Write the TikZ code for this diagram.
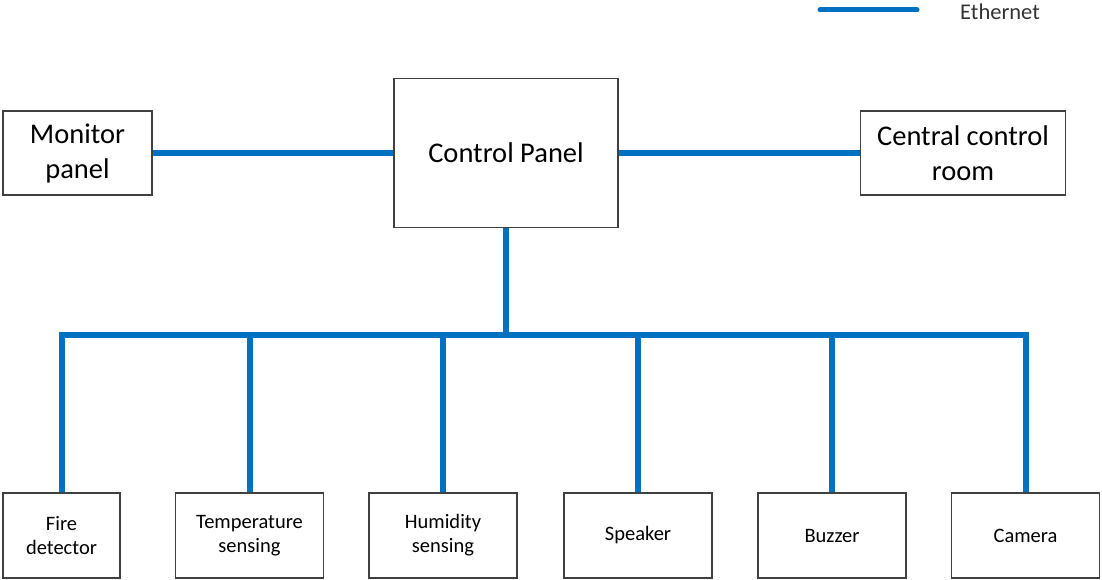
\documentclass[tikz,border=0pt]{standalone}
\usepackage{fontspec}
\setmainfont{Carlito}
\definecolor{ethblue}{HTML}{0070C0}
\definecolor{boxline}{HTML}{404040}
\tikzset{
  bigbox/.style={draw=boxline, line width=1.2pt, rectangle, inner sep=0pt, align=center,
    font=\fontsize{28.5}{35}\selectfont},
  smallbox/.style={draw=boxline, line width=1.2pt, rectangle, inner sep=0pt, align=center,
    minimum width=148pt, minimum height=85pt, font=\fontsize{20.5}{24}\selectfont},
  eth/.style={draw=ethblue, line width=6pt, line join=miter},
  legendline/.style={draw=ethblue, line width=5pt, line cap=round},
}
\begin{document}
\begin{tikzpicture}[x=1pt,y=-1pt]
\useasboundingbox (0,0) rectangle (1102,580);
% legend
\coordinate (legA) at (820,10);
\coordinate (legB) at (917,10);
\draw[legendline] (legA) -- (legB);
\node[font=\fontsize{22.5}{26}\selectfont, text=black!80, inner sep=0pt] (ethlabel) at (1000,12) {Ethernet};
% top row
\node[bigbox, minimum width=149pt, minimum height=84pt] (monitor) at (77.5,153) {Monitor\\panel};
\node[bigbox, minimum width=224pt, minimum height=149pt] (control) at (506,153) {Control Panel};
\node[bigbox, minimum width=205pt, minimum height=84pt] (central) at (963,153) {Central control\\room};
% bottom row
\node[smallbox, minimum width=117pt] (fire) at (61.5,535.5) {Fire\\detector};
\node[smallbox] (temp) at (249.5,535.5) {Temperature\\sensing};
\node[smallbox] (humid) at (443,535.5) {Humidity\\sensing};
\node[smallbox] (speaker) at (638,535.5) {Speaker};
\node[smallbox] (buzzer) at (832,535.5) {Buzzer};
\node[smallbox] (camera) at (1025.5,535.5) {Camera};
% connectors
\coordinate (bus) at (506,335);
\draw[eth] (monitor.east) -- (control.west);
\draw[eth] (control.east) -- (central.west);
\draw[eth] (control.south) -- (bus);
\draw[eth] (fire.north) -- (fire.north |- bus) -- (camera.north |- bus) -- (camera.north);
\draw[eth] (temp.north) -- (temp.north |- bus);
\draw[eth] (humid.north) -- (humid.north |- bus);
\draw[eth] (speaker.north) -- (speaker.north |- bus);
\draw[eth] (buzzer.north) -- (buzzer.north |- bus);
\end{tikzpicture}
\end{document}
